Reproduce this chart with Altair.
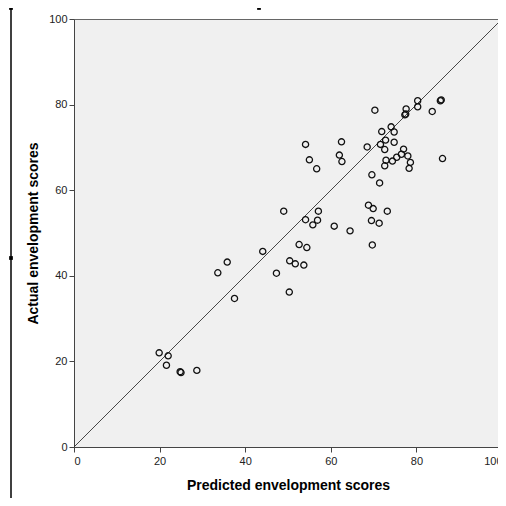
import altair as alt
import pandas as pd

predicted = [70.3, 77.6, 77.3, 77.5, 80.3, 80.3, 85.6, 85.8, 83.7, 86.1,
             74.1, 71.9, 74.8, 72.8, 74.8, 71.6, 68.5, 72.6, 77.0, 76.5,
             78.0, 75.4, 72.9, 74.4, 78.6, 72.6, 78.3, 69.6, 71.4,
             54.1, 62.5, 55.0, 62.0, 62.6, 56.7,
             49.0, 57.1, 54.1, 56.9, 55.8, 60.8, 64.5,
             68.8, 69.9, 73.2, 69.5, 71.3, 69.7,
             44.1, 52.6, 54.4, 50.4, 51.7, 53.7, 47.3, 50.3,
             35.8, 33.6, 37.5,
             19.9, 22.0, 21.6, 24.8, 25.0, 28.7]
actual = [78.7, 79.0, 77.6, 77.8, 80.9, 79.5, 80.9, 81.1, 78.4, 67.4,
          74.8, 73.7, 73.6, 71.7, 71.2, 70.7, 70.1, 69.5, 69.6, 68.4,
          68.0, 67.7, 67.0, 66.8, 66.5, 65.7, 65.1, 63.6, 61.7,
          70.7, 71.3, 67.1, 68.2, 66.7, 65.0,
          55.1, 55.1, 53.1, 53.0, 51.9, 51.6, 50.5,
          56.5, 55.7, 55.1, 52.9, 52.3, 47.2,
          45.7, 47.3, 46.6, 43.5, 42.8, 42.5, 40.6, 36.2,
          43.2, 40.7, 34.7,
          22.0, 21.3, 19.1, 17.6, 17.4, 17.9]

diag_vals = [0, 100]
tick_vals = [0, 20, 40, 60, 80, 100]

pts = pd.DataFrame({"p": predicted, "a": actual})
diag = pd.DataFrame({"p": diag_vals, "a": diag_vals})

xs = alt.Scale(domain=[0, 100], nice=False, zero=False)
ys = alt.Scale(domain=[0, 100], nice=False, zero=False)

x_axis = alt.Axis(values=tick_vals, title="Predicted envelopment scores",
                  grid=False, tickSize=5, labelPadding=3,
                  titleY=38, titleBaseline="middle")
y_axis = alt.Axis(values=tick_vals, title="Actual envelopment scores",
                  grid=False, tickSize=5, labelPadding=2,
                  titleX=-41, titleY=214, titleBaseline="middle", titleAngle=-90)

line = alt.Chart(diag).mark_line(color="#333333", strokeWidth=0.9).encode(
    x=alt.X("p:Q", scale=xs, axis=x_axis),
    y=alt.Y("a:Q", scale=ys, axis=y_axis),
)

points = alt.Chart(pts).mark_point(shape="circle", filled=False, color="#111111",
                                   size=38, strokeWidth=1.3, opacity=1).encode(
    x=alt.X("p:Q", scale=xs),
    y=alt.Y("a:Q", scale=ys),
)

# selection frame artifacts around the picture
frame = alt.Chart(pd.DataFrame({"k": [0]})).mark_rule(color="black", strokeWidth=1.5).encode(
    x=alt.value(-63), y=alt.value(-10), y2=alt.value(484)
)
stub = alt.Chart(pd.DataFrame({"k": [0]})).mark_rule(color="black", strokeWidth=1.5).encode(
    x=alt.value(-63), x2=alt.value(-60), y=alt.value(484)
)
handles = alt.Chart(pd.DataFrame({"hx": [-63, 185, -63, 185], "hy": [-11, -11, 239, 484]})).mark_square(
    color="black", size=14, filled=True, opacity=1).encode(
    x=alt.X("hx:Q", scale=None), y=alt.Y("hy:Q", scale=None)
)

chart = alt.layer(line, points, frame, stub, handles).properties(
    width=428, height=428,
    autosize=alt.AutoSizeParams(type="none"),
    padding={"left": 66, "top": 11, "right": -4, "bottom": 51},
    background="white",
).configure_view(
    fill="#F0F0F0", stroke="#666666", strokeWidth=1
).configure_axis(
    domainColor="#444444", tickColor="#444444", labelColor="#222222",
    labelFont="Liberation Sans", labelFontSize=11,
    titleFont="Liberation Sans", titleFontSize=14, titleFontWeight="bold",
    titleColor="#000000",
)

chart.save("out.html", embed_options={"renderer": "svg", "actions": False})
